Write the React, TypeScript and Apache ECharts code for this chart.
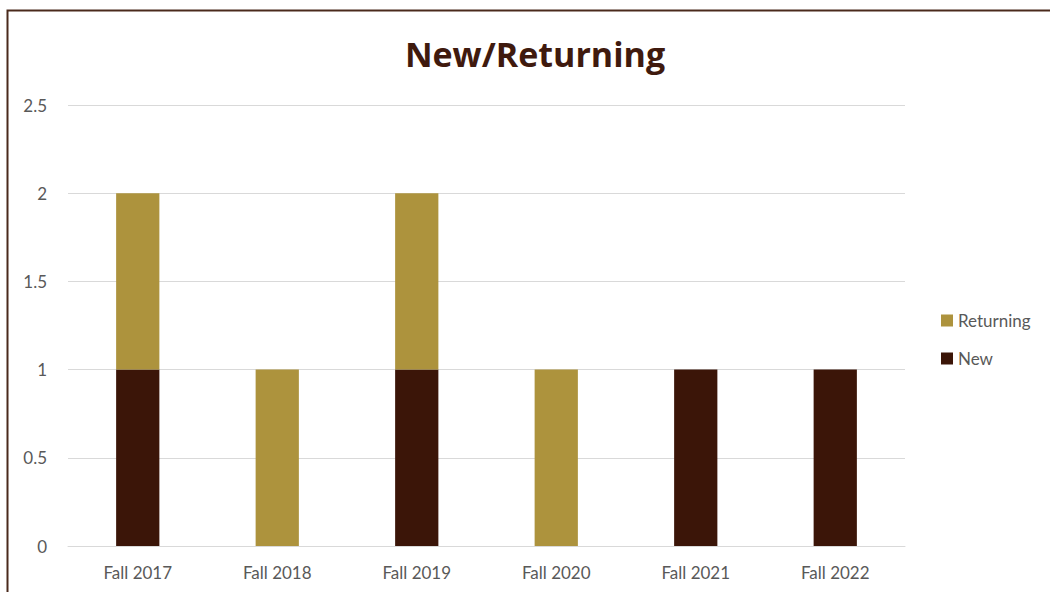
import React, { useEffect, useRef } from "react";
import * as echarts from "echarts";

const categories = ["Fall 2017", "Fall 2018", "Fall 2019", "Fall 2020", "Fall 2021", "Fall 2022"];
const newValues = [1, 0, 1, 0, 1, 1];
const returningValues = [1, 1, 1, 1, 0, 0];

export default function App() {
  const ref = useRef<HTMLDivElement>(null);
  useEffect(() => {
    if (!ref.current) return;
    const chart = echarts.init(ref.current, undefined, { renderer: "svg" });
    const font = "Lato, 'Open Sans', sans-serif";
    chart.setOption({
      animation: false,
      backgroundColor: "#ffffff",
      title: {
        text: "New/Returning",
        left: 530,
        top: 32,
        textAlign: "center",
        textStyle: { fontFamily: "'Open Sans', sans-serif", fontWeight: "bold", fontSize: 34, color: "#3F1A0E" },
      },
      legend: {
        orient: "vertical",
        left: 936,
        top: 307,
        itemGap: 21,
        itemWidth: 12,
        itemHeight: 12,
        icon: "rect",
        data: ["Returning", "New"],
        textStyle: { fontFamily: font, fontSize: 17, color: "#595959" },
      },
      grid: { left: 68, right: 145, top: 105, bottom: 46, containLabel: false },
      xAxis: {
        type: "category",
        data: categories,
        axisLine: { lineStyle: { color: "#D9D9D9" } },
        axisTick: { show: false },
        axisLabel: { fontFamily: font, fontSize: 17, color: "#595959", margin: 18 },
      },
      yAxis: {
        type: "value",
        min: 0,
        max: 2.5,
        interval: 0.5,
        axisLine: { show: false },
        axisTick: { show: false },
        splitLine: { lineStyle: { color: "#D9D9D9" } },
        axisLabel: { fontFamily: font, fontSize: 17, color: "#595959", margin: 21 },
      },
      series: [
        {
          name: "New",
          type: "bar",
          stack: "total",
          data: newValues,
          barWidth: "31%",
          itemStyle: { color: "#3B1508" },
        },
        {
          name: "Returning",
          type: "bar",
          stack: "total",
          data: returningValues,
          barWidth: "31%",
          itemStyle: { color: "#AD933D" },
        },
      ],
      graphic: [
        {
          type: "polyline",
          shape: { points: [[7.5, 600], [7.5, 10.5], [1060, 10.5]] },
          style: { stroke: "#4A2A1C", lineWidth: 2, fill: "none" },
          silent: true,
        },
      ],
    });
    return () => chart.dispose();
  }, []);
  return <div ref={ref} style={{ position: "absolute", left: 0, top: 0, width: 1050, height: 592 }} />;
}
